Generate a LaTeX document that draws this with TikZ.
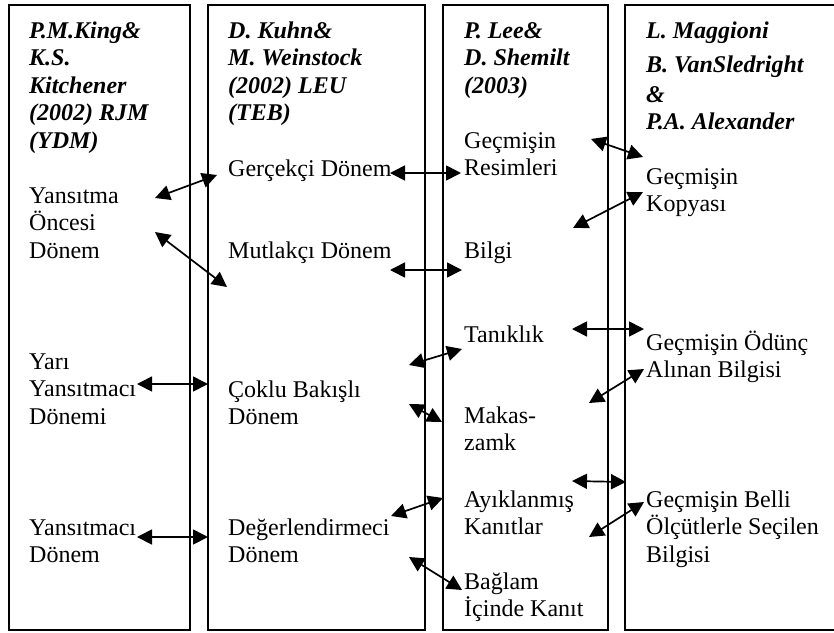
\documentclass[tikz,border=0pt]{standalone}
\usepackage{fontspec}
\setmainfont{Liberation Serif}
\usetikzlibrary{arrows.meta}
\tikzset{
  frame/.style={line width=1.8pt},
  txt/.style={anchor=base west, inner sep=0pt, align=left, font=\fontsize{24}{27.5}\selectfont},
  head/.style={txt, font=\fontsize{24}{27.5}\selectfont\bfseries\itshape},
  link/.style={line width=1.7pt, {Triangle[length=15pt,width=15pt]}-{Triangle[length=15pt,width=15pt]}}
}
\begin{document}
\begin{tikzpicture}[x=1pt,y=-1pt]
\useasboundingbox (0,0) rectangle (834,632);
% frames
\draw[frame] (9,5) rectangle (190,630);
\draw[frame] (208,5) rectangle (425,630);
\draw[frame] (443,5) rectangle (608,630);
\draw[frame] (834,5) -- (625,5) -- (625,630) -- (834,630);
% headings (anchor = baseline of last line)
\node[head] (h1) at (29,148) {P.M.King\&\\K.S.\\Kitchener\\(2002) RJM\\(YDM)};
\node[head] (h2) at (228,120.5) {D. Kuhn\&\\M. Weinstock\\(2002) LEU\\(TEB)};
\node[head] (h3) at (464,93) {P. Lee\&\\D. Shemilt\\(2003)};
\node[head] (h4) at (646,129.5) {L. Maggioni\\[6.5pt]B. VanSledright\\[2.5pt]\&\\P.A. Alexander};
% column 1
\node[txt] (c1a) at (29,258) {Yansıtma\\Öncesi\\Dönem};
\node[txt] (c1b) at (29,424) {Yarı\\Yansıtmacı\\Dönemi};
\node[txt] (c1c) at (29,562.5) {Yansıtmacı\\Dönem};
% column 2
\node[txt] (c2a) at (228,176) {Gerçekçi Dönem};
\node[txt] (c2b) at (228,258) {Mutlakçı Dönem};
\node[txt] (c2c) at (228,424.5) {Çoklu Bakışlı\\Dönem};
\node[txt] (c2d) at (228,562.5) {Değerlendirmeci\\Dönem};
% column 3
\node[txt] (c3a) at (464,175.5) {Geçmişin\\Resimleri};
\node[txt] (c3b) at (464,258) {Bilgi};
\node[txt] (c3c) at (464,342) {Tanıklık};
\node[txt] (c3d) at (464,450.5) {Makas-\\zamk};
\node[txt] (c3e) at (464,534.5) {Ayıklanmış\\Kanıtlar};
\node[txt] (c3f) at (464,616.5) {Bağlam\\İçinde Kanıt};
% column 4
\node[txt] (c4a) at (646,211.5) {Geçmişin\\Kopyası};
\node[txt] (c4b) at (646,377.5) {Geçmişin Ödünç\\Alınan Bilgisi};
\node[txt] (c4c) at (646,562) {Geçmişin Belli\\Ölçütlerle Seçilen\\Bilgisi};
% arrow end points
\coordinate (a1s) at (155,198); \coordinate (a1e) at (217,175);
\coordinate (a2s) at (155,232); \coordinate (a2e) at (227,287);
\coordinate (a3s) at (390,173); \coordinate (a3e) at (461,173);
\coordinate (a4s) at (390,270); \coordinate (a4e) at (462,270);
\coordinate (a5s) at (591,139); \coordinate (a5e) at (643,157);
\coordinate (a6s) at (573,228); \coordinate (a6e) at (643,192);
\coordinate (a7s) at (137,384); \coordinate (a7e) at (208,384);
\coordinate (a8s) at (137,537); \coordinate (a8e) at (208,537);
\coordinate (a9s) at (409,365); \coordinate (a9e) at (462,349);
\coordinate (a10s) at (409,404); \coordinate (a10e) at (442,422);
\coordinate (a11s) at (391,516); \coordinate (a11e) at (443,498);
\coordinate (a12s) at (409,557); \coordinate (a12e) at (462,590);
\coordinate (a13s) at (572,329); \coordinate (a13e) at (644,329);
\coordinate (a14s) at (589,403); \coordinate (a14e) at (644,369);
\coordinate (a15s) at (572,481); \coordinate (a15e) at (626,482);
\coordinate (a16s) at (589,537); \coordinate (a16e) at (644,502);
\foreach \i in {1,...,16} {\draw[link] (a\i s) -- (a\i e);}
\end{tikzpicture}
\end{document}
